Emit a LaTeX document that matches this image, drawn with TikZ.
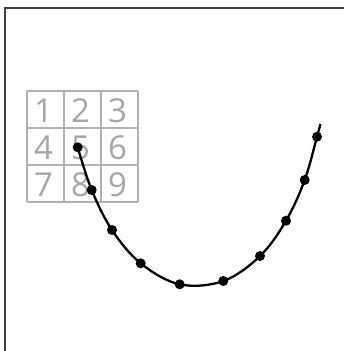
\documentclass[tikz,border=0pt]{standalone}
\usepackage{fontspec}
\setmainfont{Open Sans}
\usepackage{tikz}
\usetikzlibrary{positioning}

\begin{document}
\begin{tikzpicture}[x=1pt,y=-1pt,
  cellnum/.style={text=black!35,font=\fontsize{33}{33}\selectfont,inner sep=0pt,anchor=center},
  gridline/.style={draw=black!30,line width=1.6pt},
  ptdot/.style={fill=black,draw=none}]
\useasboundingbox (0,0) rectangle (344,351);
% ================= Frame =================
\draw[black!75,line width=1.6pt] (5,351) -- (5,8) -- (344,8);
% ================= Grid =================
\foreach \k in {0,1,2,3}{
  \draw[gridline] (27+37*\k,91) -- (27+37*\k,202);
  \draw[gridline] (27,91+37*\k) -- (138,91+37*\k);
}
\foreach \r in {0,1,2}{
  \foreach \c in {1,2,3}{
    \pgfmathtruncatemacro{\n}{3*\r+\c}
    \node[cellnum] (c\n) at (8.5+37*\c-2,111+37*\r) {\n};
  }
}
% ================= Curve =================
\coordinate (top) at (320.5,124);
\foreach \i/\px/\py in {1/77.7/147.3,2/91.7/190,3/112/230,4/140.7/263.3,5/179.7/284.3,
  6/223.3/281,7/260/256,8/286/220.7,9/304.7/180,10/317/136.7}{
  \coordinate (p\i) at (\px,\py);
}
\draw[black,line width=2.3pt] plot[smooth,tension=0.6] coordinates
  {(p1) (p2) (p3) (p4) (p5) (p6) (p7) (p8) (p9) (p10) (top)};
\foreach \i in {1,...,10}{\fill[ptdot] (p\i) circle (5);}
\end{tikzpicture}
\end{document}
